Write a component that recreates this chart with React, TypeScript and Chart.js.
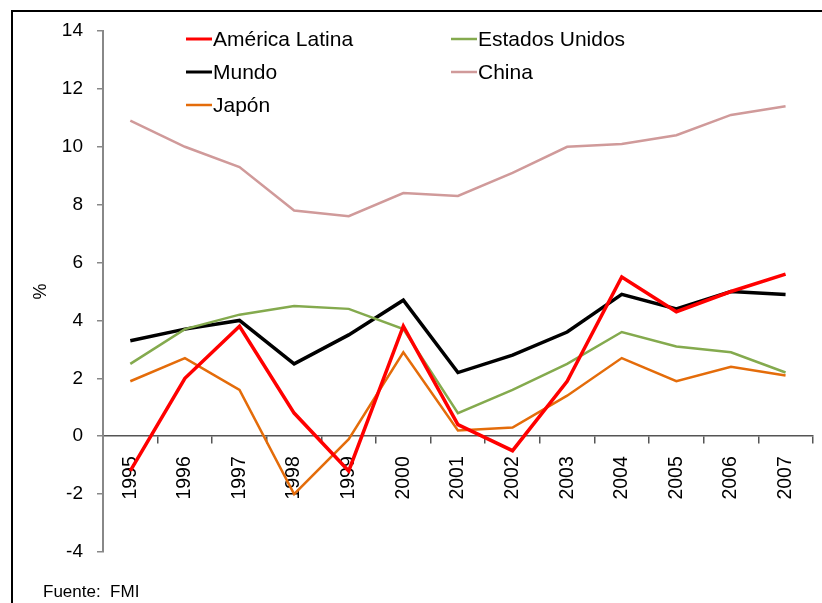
import React, { useEffect, useRef } from "react";
import { Chart, registerables } from "chart.js";

Chart.register(...registerables);

const years = ["1995", "1996", "1997", "1998", "1999", "2000", "2001", "2002", "2003", "2004", "2005", "2006", "2007"];
const americaLatina = [-1.2, 2.0, 3.8, 0.8, -1.2, 3.8, 0.4, -0.5, 1.9, 5.5, 4.3, 5.0, 5.6];
const estadosUnidos = [2.5, 3.7, 4.2, 4.5, 4.4, 3.7, 0.8, 1.6, 2.5, 3.6, 3.1, 2.9, 2.2];
const mundo = [3.3, 3.7, 4.0, 2.5, 3.5, 4.7, 2.2, 2.8, 3.6, 4.9, 4.4, 5.0, 4.9];
const china = [10.9, 10.0, 9.3, 7.8, 7.6, 8.4, 8.3, 9.1, 10.0, 10.1, 10.4, 11.1, 11.4];
const japon = [1.9, 2.7, 1.6, -2.0, -0.1, 2.9, 0.2, 0.3, 1.4, 2.7, 1.9, 2.4, 2.1];

const FONT = "'Liberation Sans', Arial, Helvetica, sans-serif";

const legendPlugin = {
  id: "customLegend",
  beforeDraw(chart: any) {
    const ctx = chart.ctx;
    ctx.save();
    ctx.fillStyle = "#000";
    ctx.fillRect(11, 10, 822, 2);
    ctx.fillRect(11, 10, 2, 603);
    ctx.restore();
  },
  afterDraw(chart: any) {
    const ctx = chart.ctx;
    const ds = chart.data.datasets;
    const cols = [186, 451];
    const rows = [39, 72, 105];
    const legendWidths = [3, 2.5, 3, 2.5, 2.5];
    ctx.save();
    ds.forEach((d: any, i: number) => {
      const x = cols[i % 2];
      const y = rows[Math.floor(i / 2)];
      ctx.strokeStyle = d.borderColor;
      ctx.lineWidth = legendWidths[i];
      ctx.beginPath();
      ctx.moveTo(x, y);
      ctx.lineTo(x + 26, y);
      ctx.stroke();
      ctx.fillStyle = "#000";
      ctx.font = `21px ${FONT}`;
      ctx.textBaseline = "middle";
      ctx.textAlign = "left";
      ctx.fillText(d.label, x + 27, y + 1);
    });
    ctx.font = `17px ${FONT}`;
    ctx.textBaseline = "alphabetic";
    ctx.fillStyle = "#000";
    ctx.fillText("Fuente:  FMI", 43, 597);
    ctx.restore();
  },
};

export default function App() {
  const ref = useRef<HTMLCanvasElement>(null);
  useEffect(() => {
    if (!ref.current) return;
    const chart = new Chart(ref.current, {
      type: "line",
      data: {
        labels: years,
        datasets: [
          { label: "América Latina", data: americaLatina, borderColor: "#FF0000", borderWidth: 3.5 },
          { label: "Estados Unidos", data: estadosUnidos, borderColor: "#84AA4E", borderWidth: 2.5 },
          { label: "Mundo", data: mundo, borderColor: "#000000", borderWidth: 3.5 },
          { label: "China", data: china, borderColor: "#D09A9A", borderWidth: 2.5 },
          { label: "Japón", data: japon, borderColor: "#E46C0A", borderWidth: 2.5 },
        ].map((d) => ({ ...d, pointRadius: 0, tension: 0, fill: false })),
      },
      options: {
        responsive: false,
        animation: false,
        layout: { padding: { top: 31, bottom: 51, left: 0, right: 1 } },
        plugins: { legend: { display: false }, tooltip: { enabled: false } },
        scales: {
          x: {
            type: "category",
            offset: true,
            position: { y: 0 } as any,
            grid: { drawOnChartArea: false, offset: true, tickLength: 7, color: "#555", lineWidth: 1.5 },
            border: { color: "#555", width: 1.5 },
            ticks: {
              autoSkip: false,
              minRotation: 90,
              maxRotation: 90,
              padding: 13,
              color: "#000",
              font: { family: FONT, size: 19.5 },
            },
          },
          y: {
            min: -4,
            max: 14,
            afterFit: (scale: any) => {
              scale.width = 103;
            },
            ticks: { stepSize: 2, padding: 14, color: "#000", font: { family: FONT, size: 19 } },
            grid: { drawOnChartArea: false, tickLength: 6, color: "#888", lineWidth: 1.5 },
            border: { color: "#888", width: 2 },
            title: {
              display: true,
              text: "%",
              color: "#000",
              font: { family: FONT, size: 18 },
              padding: { top: 30, bottom: 0 },
            },
          },
        },
      },
      plugins: [legendPlugin],
    });
    return () => chart.destroy();
  }, []);
  return (
    <div style={{ position: "fixed", left: 0, top: 0, width: 822, height: 603, background: "#fff" }}>
      <canvas ref={ref} width={822} height={603} />
    </div>
  );
}
